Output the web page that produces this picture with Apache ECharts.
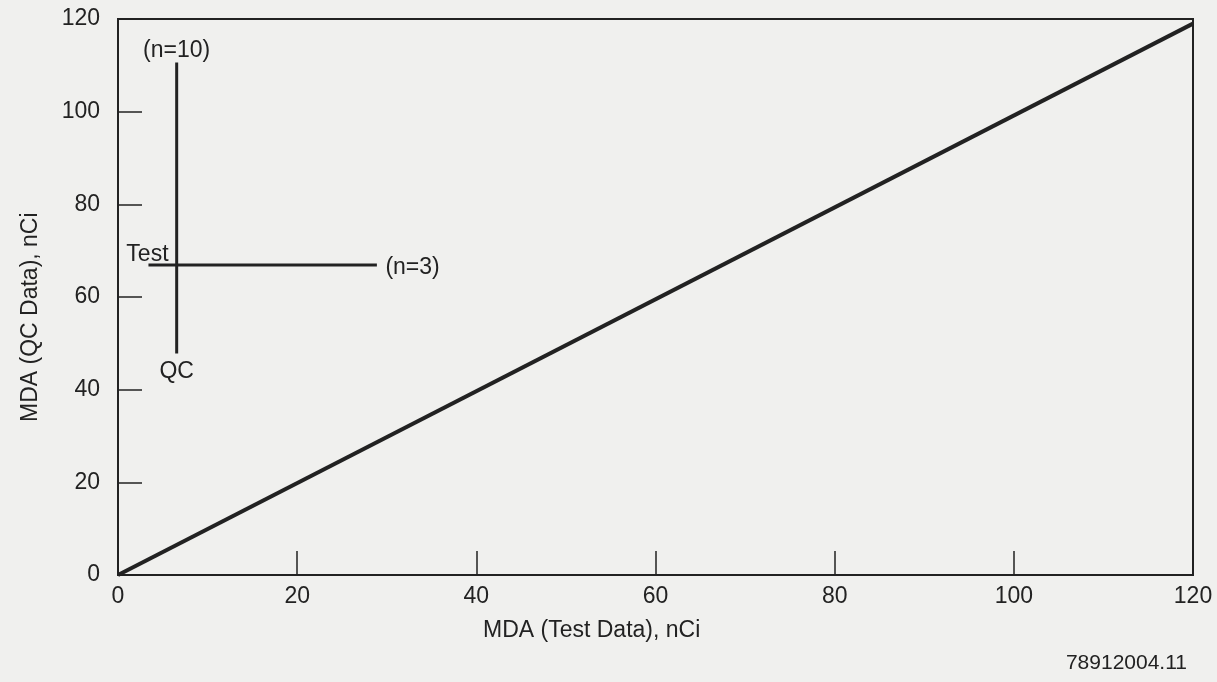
<!DOCTYPE html>
<html>
<head>
<meta charset="utf-8">
<script src="https://cdn.jsdelivr.net/npm/echarts@6/dist/echarts.min.js"></script>
<style>
html,body{margin:0;padding:0;background:#f0f0ee;}
#chart{width:1217px;height:682px;}
</style>
</head>
<body>
<div id="chart"></div>
<script>
// Axis ticks
const xTicks = [0, 20, 40, 60, 80, 100, 120];
const yTicks = [0, 20, 40, 60, 80, 100, 120];
// Diagonal line (Test vs QC)
const diagonalLine = [[0, 0], [120, 119]];
// Cross marker: vertical (QC, n=10) and horizontal (Test, n=3)
const verticalBar = [[6.55, 110.6], [6.55, 47.8]];
const horizontalBar = [[3.4, 66.9], [28.9, 66.9]];
const labels = { top: '(n=10)', bottom: 'QC', left: 'Test', right: '(n=3)' };
const xTitle = 'MDA (Test Data), nCi';
const yTitle = 'MDA (QC Data), nCi';
const footnote = '78912004.11';

const font = '"Liberation Sans", Arial, sans-serif';
const ink = '#222222';
const fs = 23;
const chart = echarts.init(document.getElementById('chart'));

const lbl = (text, position, distance, offset) => ({
  show: true, formatter: text, position, distance, offset: offset || [0, 0],
  color: ink, fontFamily: font, fontSize: fs, opacity: 1
});

const labelPoints = [
  { value: verticalBar[0], label: lbl(labels.top, 'top', 2, [0, 2]) },
  { value: verticalBar[1], label: lbl(labels.bottom, 'bottom', 6) },
  { value: horizontalBar[0], label: lbl(labels.left, 'top', 0, [-1, 2]) },
  { value: horizontalBar[1], label: lbl(labels.right, 'right', 8, [0, 3]) }
];

chart.setOption({
  backgroundColor: '#f0f0ee',
  animation: false,
  grid: { left: 118, right: 24, top: 19, bottom: 107, show: true, borderColor: ink, borderWidth: 2, backgroundColor: 'transparent' },
  xAxis: {
    type: 'value', min: xTicks[0], max: xTicks[xTicks.length - 1], interval: 20,
    axisLine: { show: true, lineStyle: { color: ink, width: 2 } },
    axisTick: { show: true, inside: true, length: 24, lineStyle: { color: ink, width: 1.5 } },
    splitLine: { show: false },
    axisLabel: { color: ink, fontFamily: font, fontSize: fs, margin: 10 }
  },
  yAxis: {
    type: 'value', min: yTicks[0], max: yTicks[yTicks.length - 1], interval: 20,
    axisLine: { show: true, lineStyle: { color: ink, width: 2 } },
    axisTick: { show: true, inside: true, length: 24, lineStyle: { color: ink, width: 1.5 } },
    splitLine: { show: false },
    axisLabel: { color: ink, fontFamily: font, fontSize: fs, margin: 18 }
  },
  series: [
    {
      type: 'line', data: diagonalLine, symbol: 'none',
      lineStyle: { color: ink, width: 4 }
    },
    {
      type: 'line', data: verticalBar, symbol: 'none',
      lineStyle: { color: ink, width: 3 }
    },
    {
      type: 'line', data: horizontalBar, symbol: 'none',
      lineStyle: { color: ink, width: 3 }
    },
    {
      type: 'scatter', data: labelPoints, symbolSize: 1,
      itemStyle: { color: 'rgba(0,0,0,0)', opacity: 1 },
      emphasis: { disabled: true }
    }
  ],
  graphic: [
    { type: 'text', left: 483, top: 619, style: { text: xTitle, fill: ink, font: fs + 'px ' + font } },
    { type: 'text', x: 19, y: 422, rotation: Math.PI / 2, style: { text: yTitle, fill: ink, font: fs + 'px ' + font } },
    { type: 'text', right: 30, top: 653, style: { text: footnote, fill: ink, font: '21px ' + font } }
  ]
});
</script>
</body>
</html>
